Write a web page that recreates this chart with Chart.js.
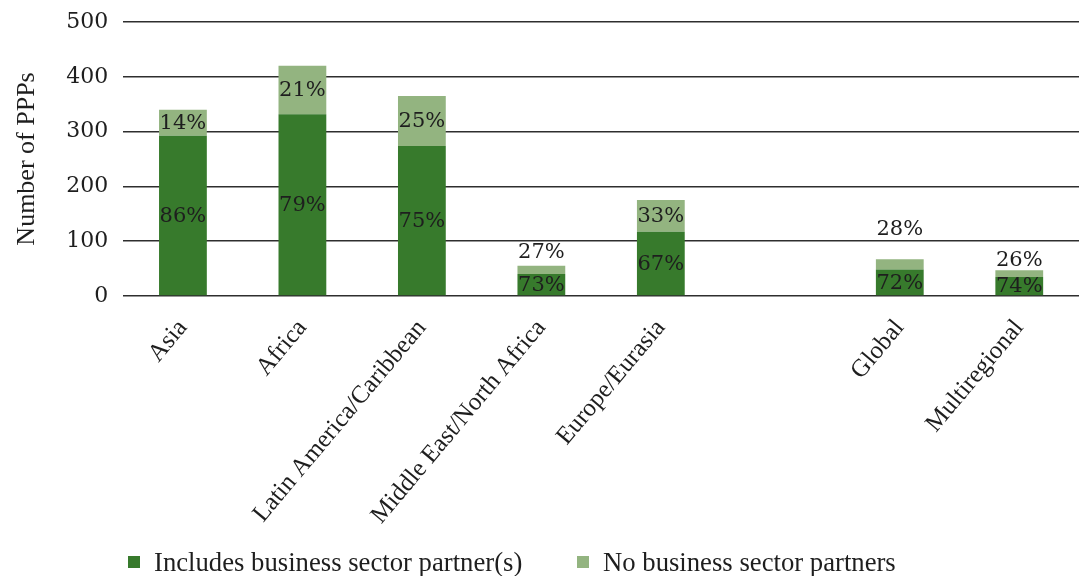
<!DOCTYPE html>
<html>
<head>
<meta charset="utf-8">
<title>PPPs by region</title>
<script src="https://cdn.jsdelivr.net/npm/chart.js@4.4.1/dist/chart.umd.min.js"></script>
<style>
    html, body { margin: 0; padding: 0; background: #fff; }
    #wrap { position: relative; width: 1079px; height: 576px; }
    #legend {
        position: absolute; left: 0; top: 548px; width: 1079px; height: 28px;
        font-family: 'Liberation Serif', serif; font-size: 26.7px; color: #1e1e1e; white-space: nowrap;
    }
    #legend .item { position: absolute; top: 0; display: flex; align-items: center; height: 28px; }
    #legend .item:nth-child(1) { left: 128px; }
    #legend .item:nth-child(2) { left: 577px; }
    #legend .swatch { width: 12px; height: 12px; margin-right: 14px; }
</style>
</head>
<body>
<div id="wrap">
    <canvas id="ppp-chart" width="1079" height="576"></canvas>
    <div id="legend"></div>
</div>
<script>
// Regions (blank slot separates the regional groups from Global/Multiregional)
const regions = ['Asia', 'Africa', 'Latin America/Caribbean', 'Middle East/North Africa', 'Europe/Eurasia', '', 'Global', 'Multiregional'];
const totalPPPs = [340, 420, 365, 55, 175, null, 67, 47];
const businessShare = [86, 79, 75, 73, 67, null, 72, 74];
const noBusinessShare = [14, 21, 25, 27, 33, null, 28, 26];
const yTicks = [0, 100, 200, 300, 400, 500];

const seriesNames = ['Includes business sector partner(s)', 'No business sector partners'];
const DARK = '#377a2c';
const LIGHT = '#93b480';
const NUM_FONT = "'DejaVu Serif', serif";
const TEXT_FONT = "'Liberation Serif', serif";

const withBusiness = totalPPPs.map((t, i) => t == null ? null : t * businessShare[i] / 100);
const withoutBusiness = totalPPPs.map((t, i) => t == null ? null : t * noBusinessShare[i] / 100);

// share labels; short segments get their label lifted above the bar
const shareLabels = {
    id: 'shareLabels',
    afterDatasetsDraw(chart, args, opts) {
        const ctx = chart.ctx;
        const shares = [businessShare, noBusinessShare];
        ctx.save();
        ctx.font = `21px ${NUM_FONT}`;
        ctx.fillStyle = '#1e1e1e';
        ctx.textAlign = 'center';
        ctx.textBaseline = 'middle';
        chart.data.datasets.forEach((ds, di) => {
            const meta = chart.getDatasetMeta(di);
            meta.data.forEach((bar, i) => {
                const v = shares[di][i];
                if (v == null) return;
                const { x, y, base } = bar.getProps(['x', 'y', 'base'], true);
                let ty = (y + base) / 2;
                const lift = opts.lift[regions[i]];
                if (di === 1 && lift) ty = y - lift;
                ctx.fillText(v + '%', x, ty + 1);
            });
        });
        ctx.restore();
    }
};

const ctx = document.getElementById('ppp-chart').getContext('2d');
const pppChart = new Chart(ctx, {
    type: 'bar',
    data: {
        labels: regions,
        datasets: [
            { label: seriesNames[0], data: withBusiness, backgroundColor: DARK },
            { label: seriesNames[1], data: withoutBusiness, backgroundColor: LIGHT }
        ]
    },
    options: {
        responsive: false,
        animation: false,
        layout: { padding: { top: 22, right: 0, bottom: 36, left: 8 } },
        datasets: { bar: { barPercentage: 0.4, categoryPercentage: 1 } },
        scales: {
            x: {
                stacked: true,
                grid: { display: false },
                border: { display: false },
                ticks: {
                    maxRotation: 50, minRotation: 50, autoSkip: false, padding: 10,
                    color: '#1e1e1e', font: { family: TEXT_FONT, size: 25 }
                }
            },
            y: {
                stacked: true,
                min: 0, max: 500,
                afterBuildTicks: axis => { axis.ticks = yTicks.map(v => ({ value: v })); },
                // plot edges come from layout padding only
                afterFit: axis => { axis.paddingTop = 0; axis.paddingBottom = 0; },
                border: { display: false },
                grid: { color: '#2e2e2e', lineWidth: 1.5, drawTicks: false },
                ticks: { padding: 15, color: '#1e1e1e', font: { family: NUM_FONT, size: 22 } },
                title: {
                    display: true, text: 'Number of PPPs', color: '#1e1e1e', padding: { bottom: 8 },
                    font: { family: TEXT_FONT, size: 26 }
                }
            }
        },
        plugins: {
            legend: { display: false },
            tooltip: { enabled: false },
            shareLabels: { lift: { 'Middle East/North Africa': 14, 'Global': 31, 'Multiregional': 11 } }
        }
    },
    plugins: [shareLabels]
});

// legend below the chart
const legendEl = document.getElementById('legend');
pppChart.data.datasets.forEach(ds => {
    const item = document.createElement('div');
    item.className = 'item';
    item.innerHTML = `<span class="swatch" style="background:${ds.backgroundColor}"></span><span>${ds.label}</span>`;
    legendEl.appendChild(item);
});
</script>
</body>
</html>
